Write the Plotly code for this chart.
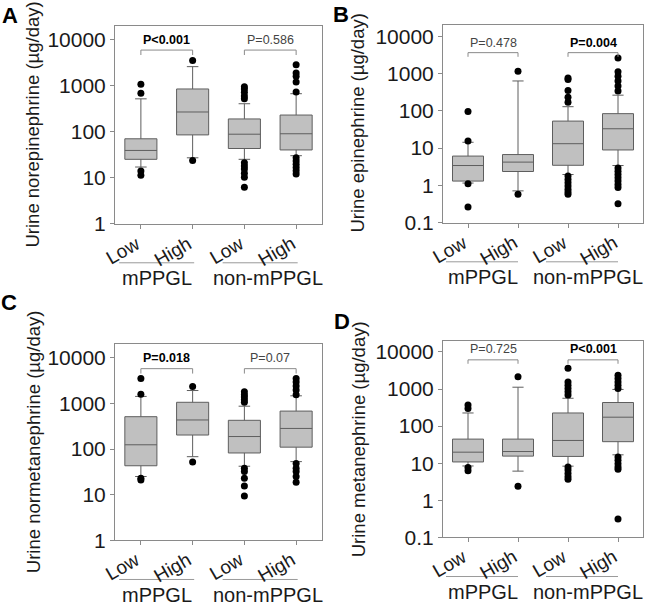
import plotly.graph_objects as go

# ---------------- data ----------------
tick_labels = ["Low", "High", "Low", "High"]
group_labels = ["mPPGL", "non-mPPGL"]

titles = ["Urine norepinephrine (µg/day)", "Urine epinephrine (µg/day)",
          "Urine normetanephrine (µg/day)", "Urine metanephrine (µg/day)"]
letters = ["A", "B", "C", "D"]

A_q1 = [25, 85, 43, 40]
A_median = [39, 268, 88, 90]
A_q3 = [70, 849, 189, 230]
A_lower = [17, 27, 25, 30]
A_upper = [518, 2600, 405, 670]
A_outliers = [[1070, 685, 14, 11.2], [3550, 23.5],
              [950, 850, 720, 600, 520, 21, 18, 15.3, 12.4, 10.2, 6.2],
              [2860, 1900, 1610, 1200, 730, 27, 23, 19.6, 16.6, 14.1, 12]]
A_p = ["P<0.001", "P=0.586"]
A_bold = [True, False]

B_q1 = [1.3, 2.35, 3.45, 8.9]
B_median = [3.4, 4.2, 13.1, 33]
B_q3 = [6.1, 6.7, 53, 84]
B_lower = [1.15, 0.71, 1.95, 3.4]
B_upper = [14.3, 633, 129, 263]
B_outliers = [[96, 15.5, 1.1, 0.26], [1160, 0.58],
              [760, 690, 350, 230, 170, 1.77, 1.44, 1.18, 0.96, 0.79, 0.66, 0.58],
              [2600, 1110, 850, 627, 462, 341, 2.9, 2.4, 1.95, 1.6, 1.3, 1.06, 0.87, 0.32]]
B_p = ["P=0.478", "P=0.004"]
B_bold = [False, True]

C_q1 = [43, 203, 82, 110]
C_median = [124, 434, 188, 283]
C_q3 = [512, 1060, 427, 680]
C_lower = [25, 68, 42, 53]
C_upper = [1426, 1920, 870, 1470]
C_outliers = [[3530, 1600, 23, 21], [2340, 52],
              [1800, 1550, 1380, 1210, 1060, 38, 32, 23, 15.5, 9.3],
              [3530, 2950, 2400, 1980, 1550, 48, 38, 32, 25, 18.6]]
C_p = ["P=0.018", "P=0.07"]
C_bold = [True, False]

D_q1 = [10.8, 15.5, 15.2, 38]
D_median = [19.8, 20.6, 41, 174]
D_q3 = [44.6, 44.6, 226, 433]
D_lower = [8.4, 6.1, 8.3, 16.8]
D_upper = [226, 1120, 564, 975]
D_outliers = [[370, 300, 7.6, 6.2], [2150, 2.4],
              [3650, 1550, 1260, 1040, 850, 690, 7.9, 6.5, 5.3, 4.3, 3.7],
              [2340, 1910, 1550, 1270, 1040, 14.6, 11.9, 9.7, 7.9, 6.9, 0.31]]
D_p = ["P=0.725", "P<0.001"]
D_bold = [False, True]

panels = [
    dict(q1=A_q1, med=A_median, q3=A_q3, lo=A_lower, hi=A_upper, out=A_outliers, p=A_p, bold=A_bold),
    dict(q1=B_q1, med=B_median, q3=B_q3, lo=B_lower, hi=B_upper, out=B_outliers, p=B_p, bold=B_bold),
    dict(q1=C_q1, med=C_median, q3=C_q3, lo=C_lower, hi=C_upper, out=C_outliers, p=C_p, bold=C_bold),
    dict(q1=D_q1, med=D_median, q3=D_q3, lo=D_lower, hi=D_upper, out=D_outliers, p=D_p, bold=D_bold),
]

# ---------------- layout geometry ----------------
W, H = 645, 614
FONT = "Arial, Liberation Sans, sans-serif"
# plot rectangles in pixels: (left, right, top, bottom)
rects = [(115, 322, 25, 227), (443, 643, 24, 226), (115, 322, 350, 550), (443, 643, 347, 547)]
yranges = [[0, 4.31], [-1, 4.316], [0, 4.30], [-1, 4.29]]
yticks = [[1, 10, 100, 1000, 10000], [0.1, 1, 10, 100, 1000, 10000],
          [1, 10, 100, 1000, 10000], [0.1, 1, 10, 100, 1000, 10000]]
# bracket geometry in y-domain fractions: (bar, tick end, text)
brackets = [(0.876, 0.851, 0.926), (0.858, 0.837, 0.906), (0.875, 0.85, 0.93), (0.905, 0.885, 0.96)]
letter_pos = [(9.5, 15), (341, 13.5), (9, 308), (342, 327)]
title_x = [33, 358, 33, 358]
group_pos = [[(-0.42, 1.03, 0.32), (1.58, 3.03, 2.46)],
             [(-0.44, 1.0, 0.3), (1.56, 3.0, 2.40)],
             [(-0.42, 1.03, 0.32), (1.58, 3.03, 2.46)],
             [(-0.44, 1.0, 0.3), (1.56, 3.0, 2.40)]]

fig = go.Figure()
annotations = []
shapes = []
positions = list(range(len(tick_labels)))

for i, pn in enumerate(panels):
    sfx = "" if i == 0 else str(i + 1)
    xa, ya = "x" + sfx, "y" + sfx
    fig.add_trace(go.Box(
        x=positions, q1=pn["q1"], median=pn["med"], q3=pn["q3"],
        lowerfence=pn["lo"], upperfence=pn["hi"],
        width=0.62, whiskerwidth=0.36, boxpoints=False,
        fillcolor="#c0c0c0", line=dict(color="#5e5e5e", width=1),
        xaxis=xa, yaxis=ya, hoverinfo="skip", showlegend=False))
    ox, oy = [], []
    for g, vals in enumerate(pn["out"]):
        ox += [positions[g]] * len(vals)
        oy += vals
    fig.add_trace(go.Scatter(x=ox, y=oy, mode="markers",
                             marker=dict(color="black", size=7),
                             xaxis=xa, yaxis=ya, showlegend=False, hoverinfo="skip"))

    l, r, t, b = rects[i]
    ph = b - t
    axis_common = dict(showline=True, linecolor="#8a8a8a", linewidth=1, mirror=True,
                       ticks="outside", ticklen=4, tickcolor="#8a8a8a", showgrid=False,
                       zeroline=False)
    fig.update_layout(**{
        "xaxis" + sfx: dict(domain=[l / W, r / W], range=[-0.5, 3.5], anchor=ya,
                            tickmode="array", tickvals=positions, showticklabels=False,
                            **axis_common),
        "yaxis" + sfx: dict(domain=[1 - b / H, 1 - t / H], type="log", range=yranges[i], anchor=xa,
                            tickmode="array", tickvals=yticks[i],
                            ticktext=[("%g" % v) for v in yticks[i]],
                            tickfont=dict(family=FONT, size=21, color="#1a1a1a"),
                            **axis_common),
    })

    xr, yd = xa, ya + " domain"
    # rotated category labels
    for g, lab in enumerate(tick_labels):
        annotations.append(dict(xref=xr, yref=yd, x=positions[g] + 0.1, y=-6 / ph,
                                text=lab, textangle=-30, showarrow=False,
                                xanchor="right", yanchor="top",
                                font=dict(family=FONT, size=19, color="#1a1a1a")))
    # p-value brackets
    bar, tend, ttext = brackets[i]
    for k, (a0, a1) in enumerate([(0, 1), (2, 3)]):
        for (x0, y0, x1, y1) in [(a0, tend, a0, bar), (a0, bar, a1, bar), (a1, bar, a1, tend)]:
            shapes.append(dict(type="line", xref=xr, yref=yd, x0=x0, x1=x1, y0=y0, y1=y1,
                               line=dict(color="#8a8a8a", width=1)))
        txt = pn["p"][k]
        annotations.append(dict(xref=xr, yref=yd, x=(a0 + a1) / 2, y=ttext, showarrow=False,
                                text=("<b>%s</b>" % txt) if pn["bold"][k] else txt,
                                font=dict(family=FONT, size=12.5,
                                          color="#000" if pn["bold"][k] else "#444"),
                                xanchor="center", yanchor="middle"))
    # group labels with lines
    for g, (x0, x1, xc) in enumerate(group_pos[i]):
        shapes.append(dict(type="line", xref=xr, yref=yd, x0=x0, x1=x1,
                           y0=-40 / ph, y1=-40 / ph, line=dict(color="#9a9a9a", width=1)))
        annotations.append(dict(xref=xr, yref=yd, x=xc, y=-56 / ph, showarrow=False,
                                text=group_labels[g], xanchor="center", yanchor="middle",
                                font=dict(family=FONT, size=20, color="#1a1a1a")))
    # y axis title
    annotations.append(dict(xref="paper", yref="paper", x=title_x[i] / W, y=1 - (t + b) / 2 / H,
                            text=titles[i], textangle=-90, showarrow=False,
                            xanchor="center", yanchor="middle",
                            font=dict(family=FONT, size=18.5, color="#1a1a1a")))
    # panel letter
    lx, ly = letter_pos[i]
    annotations.append(dict(xref="paper", yref="paper", x=lx / W, y=1 - ly / H,
                            text="<b>%s</b>" % letters[i], showarrow=False,
                            xanchor="center", yanchor="middle",
                            font=dict(family=FONT, size=22, color="black")))

fig.update_layout(width=W, height=H, margin=dict(l=0, r=0, t=0, b=0),
                  paper_bgcolor="white", plot_bgcolor="white",
                  showlegend=False, annotations=annotations, shapes=shapes,
                  font=dict(family=FONT))
fig.write_html("out.html", config={"displayModeBar": False, "staticPlot": True},
               post_script="document.body.style.margin='0px';document.body.style.overflow='hidden';")
